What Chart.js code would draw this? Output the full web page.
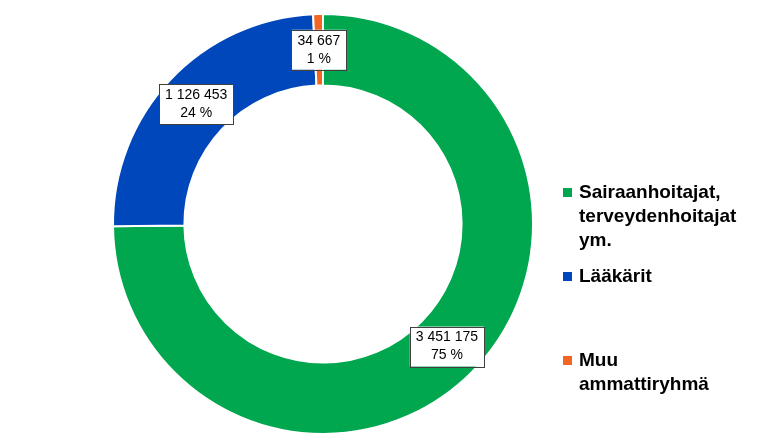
<!DOCTYPE html>
<html><head><meta charset="utf-8">
<script src="https://cdn.jsdelivr.net/npm/chart.js@4"></script>
<style>
body{margin:0;background:#fff;font-family:"Liberation Sans",Arial,sans-serif}
#wrap{position:absolute;left:0;top:0;width:646px;height:441px}
#legend{position:absolute;left:563px;top:180px;font-weight:bold;font-size:19px;line-height:24px;color:#000}
.item{position:relative;padding-left:16px}
.box{position:absolute;left:0;top:8px;width:9px;height:9px}
</style></head><body>
<div id="wrap"><canvas id="c"></canvas></div>
<div id="legend"></div>
<script>
var labels = ['Sairaanhoitajat, terveydenhoitajat ym.', 'Lääkärit', 'Muu ammattiryhmä'];
var legendLines = [['Sairaanhoitajat,', 'terveydenhoitajat', 'ym.'], ['Lääkärit'], ['Muu', 'ammattiryhmä']];
var values = [3451175, 1126453, 34667];
var shares = ['75 %', '24 %', '1 %'];
var colors = ['#00a74f', '#0047bb', '#f26522'];

var legend = document.getElementById('legend');
var tops = [0, 84, 168];
legendLines.forEach(function(lines, i) {
    var d = document.createElement('div');
    d.className = 'item';
    d.style.position = 'absolute';
    d.style.top = tops[i] + 'px';
    d.style.whiteSpace = 'nowrap';
    d.innerHTML = '<span class="box" style="background:' + colors[i] + '"></span>' + lines.join('<br>');
    legend.appendChild(d);
});

var boxLabels = {
    id: 'boxLabels',
    afterDatasetsDraw: function(chart) {
        var ctx = chart.ctx;
        var meta = chart.getDatasetMeta(0);
        ctx.save();
        ctx.font = '14px "Liberation Sans", Arial';
        ctx.textAlign = 'center';
        ctx.textBaseline = 'middle';
        meta.data.forEach(function(arc, i) {
            var p = arc.tooltipPosition();
            var l1 = values[i].toLocaleString('fi-FI').replace(/\s/g, ' ');
            var l2 = shares[i];
            var w = Math.max(ctx.measureText(l1).width, ctx.measureText(l2).width) + 12;
            var h = 40;
            ctx.fillStyle = '#fff';
            ctx.fillRect(p.x - w / 2, p.y - h / 2, w, h);
            ctx.strokeStyle = '#404040';
            ctx.lineWidth = 1;
            ctx.strokeRect(Math.round(p.x - w / 2) + 0.5, Math.round(p.y - h / 2) + 0.5, Math.round(w), h);
            ctx.fillStyle = '#000';
            ctx.fillText(l1, p.x, p.y - 9);
            ctx.fillText(l2, p.x, p.y + 9);
        });
        ctx.restore();
    }
};

new Chart(document.getElementById('c'), {
    type: 'doughnut',
    data: {
        labels: labels,
        datasets: [{
            data: values,
            backgroundColor: colors,
            borderColor: '#fff',
            borderWidth: 2
        }]
    },
    options: {
        responsive: true,
        maintainAspectRatio: false,
        animation: false,
        cutout: '66%',
        layout: { padding: { top: 13, bottom: 6 } },
        plugins: { legend: { display: false }, tooltip: { enabled: false } }
    },
    plugins: [boxLabels]
});
</script>
</body></html>
